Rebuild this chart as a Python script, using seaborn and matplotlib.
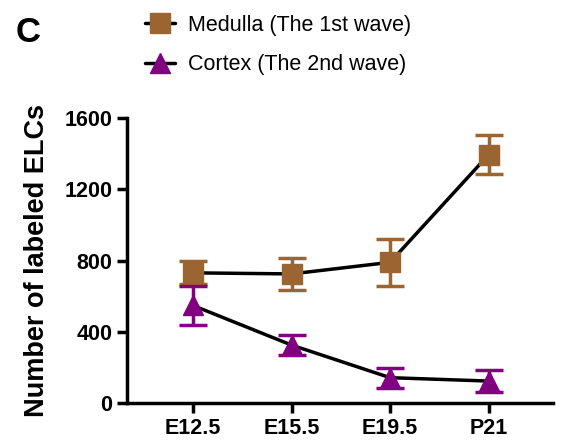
import numpy as np
import pandas as pd
import seaborn as sns
import matplotlib.pyplot as plt
from matplotlib.lines import Line2D

# 数据
stages = ['E12.5', 'E15.5', 'E19.5', 'P21']
medulla_mean = [731, 725, 790, 1394]
medulla_err = [65, 90, 130, 110]
cortex_mean = [548, 326, 143, 124]
cortex_err = [108, 55, 56, 60]

brown = '#9B6531'
purple = '#800080'

sns.set_style('ticks')
plt.rcParams['font.family'] = ['Liberation Sans', 'DejaVu Sans']
plt.rcParams['text.color'] = 'black'
plt.rcParams['axes.labelcolor'] = 'black'
plt.rcParams['axes.edgecolor'] = 'black'

df = pd.DataFrame({
    'stage': stages * 2,
    'count': medulla_mean + cortex_mean,
    'group': ['Medulla (The 1st wave)'] * 4 + ['Cortex (The 2nd wave)'] * 4,
})

fig = plt.figure(figsize=(5.64, 4.45), dpi=100)
ax = fig.add_axes([0.225, 0.094, 0.755, 0.641])

# 误差棒
xs = np.arange(len(stages))
ax.errorbar(xs, medulla_mean, yerr=medulla_err, fmt='none', ecolor=brown,
            elinewidth=2.5, capsize=10, capthick=2.5, zorder=2)
ax.errorbar(xs, cortex_mean, yerr=cortex_err, fmt='none', ecolor=purple,
            elinewidth=2.5, capsize=10, capthick=2.5, zorder=2)

# 连线
sns.lineplot(data=df, x='stage', y='count', hue='group',
             palette=['black', 'black'], linewidth=2.5, legend=False, ax=ax, zorder=3)

# 标记
ax.plot(xs, medulla_mean, 's', color=brown, markersize=14, zorder=4)
ax.plot(xs, cortex_mean, '^', color=purple, markersize=14, zorder=4)

ax.set_xlim(-0.67, 3.65)
ax.set_ylim(0, 1600)
ax.set_yticks([0, 400, 800, 1200, 1600])
ax.set_xlabel('')
ax.set_ylabel('Number of labeled ELCs', fontsize=19.5, fontweight='bold', labelpad=10)
sns.despine(ax=ax)
for s in ['left', 'bottom']:
    ax.spines[s].set_linewidth(2.5)
ax.tick_params(width=2.5, length=7, labelsize=15.5, colors='black')
for lab in ax.get_xticklabels() + ax.get_yticklabels():
    lab.set_fontweight('bold')

handles = [
    Line2D([], [], color='black', lw=2.5, marker='s', markersize=14,
           markerfacecolor=brown, markeredgecolor=brown),
    Line2D([], [], color='black', lw=2.5, marker='^', markersize=14,
           markerfacecolor=purple, markeredgecolor=purple),
]
fig.legend(handles, ['Medulla (The 1st wave)', 'Cortex (The 2nd wave)'],
           loc='upper left', bbox_to_anchor=(0.222, 1.01), frameon=False,
           fontsize=15.5, handlelength=1.4, handletextpad=0.6, labelspacing=0.85)

fig.text(0.028, 0.928, 'C', fontsize=25, fontweight='bold', va='center')

fig.savefig('out.png', dpi=100)
